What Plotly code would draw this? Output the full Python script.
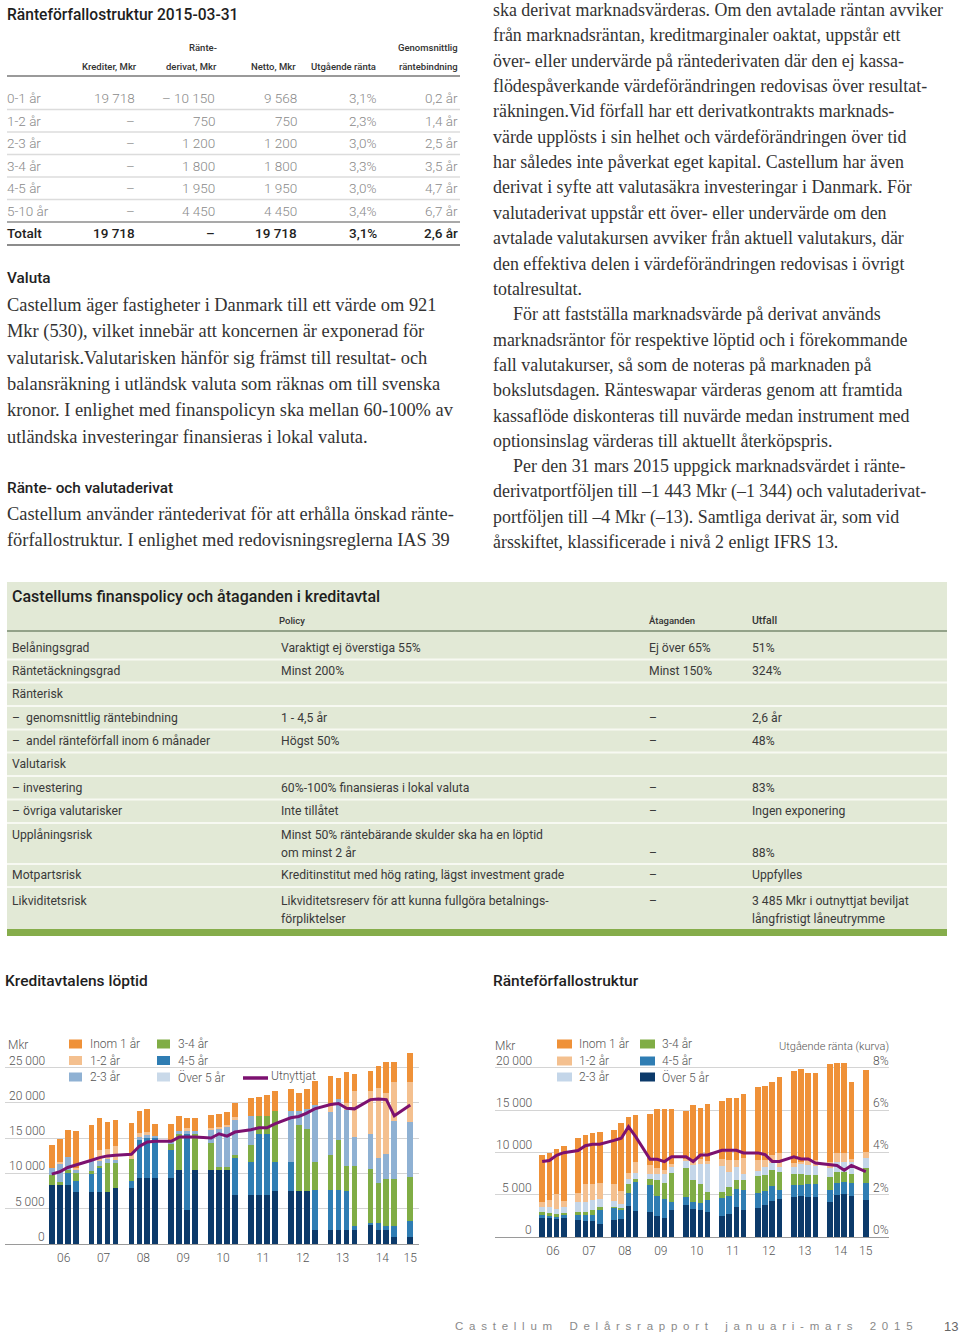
import plotly.graph_objects as go

W, H = 960, 1342

# ---------------- data ----------------
years = [2006, 2007, 2008, 2009, 2010, 2011, 2012, 2013, 2014, 2015]
year_labels = ["06", "07", "08", "09", "10", "11", "12", "13", "14", "15"]
quarters = [(y, q) for y in years for q in (1, 2, 3, 4) if not (y == 2015 and q > 1)]

# Kreditavtalens löptid, Mkr (per quarter 2006Q1 .. 2015Q1)
kl_over5 = [8400, 8400, 8400, 7500, 7500, 7500, 7500, 7950, 7950, 9450, 9450, 9450,
            9450, 10550, 4950, 10550, 10550, 10550, 10550, 7000, 7000, 7000, 7000, 7650,
            7650, 7650, 7650, 2100, 2100, 2100, 2100, 2100, 2700, 2100, 2100, 1050, 1050]
kl_4_5 = [0, 0, 1800, 1550, 2500, 3400, 0, 0, 1000, 5300, 5700, 5700,
          3950, 0, 10700, 0, 0, 0, 0, 5300, 4700, 8700, 8700, 4000,
          4000, 0, 0, 5650, 5650, 5650, 5550, 500, 350, 950, 500, 1550, 2250]
kl_3_4 = [1500, 500, 300, 1150, 400, 300, 4100, 3650, 3150, 0, 0, 0,
          950, 5100, 0, 5100, 3900, 400, 500, 400, 2450, 2450, 2450, 7300,
          0, 9350, 8750, 4000, 5000, 7000, 3450, 8600, 7600, 5700, 6700, 6700, 6200]
kl_2_3 = [1000, 2500, 1900, 500, 1400, 700, 500, 400, 0, 500, 400, 300,
          200, 400, 400, 400, 1900, 5400, 5550, 5000, 4050, 0, 0, 0,
          7250, 1900, 2850, 8000, 6000, 5900, 7900, 4000, 5050, 3500, 3500, 8200, 7900]
kl_1_2 = [0, 300, 0, 200, 0, 1450, 1400, 1900, 700, 600, 400, 0,
          0, 0, 500, 0, 200, 300, 300, 400, 0, 0, 0, 0,
          0, 0, 0, 0, 900, 0, 1000, 6500, 6050, 10000, 8700, 5500, 5650]
kl_inom1 = [3200, 3300, 3800, 5200, 5200, 4600, 3900, 3700, 4450, 3100, 3250, 1700,
            2600, 2100, 1400, 1950, 1850, 1800, 1900, 1950, 2600, 2750, 3000, 2850,
            3100, 2550, 2800, 3450, 4300, 2950, 4400, 2500, 2850, 3050, 4400, 2900, 4150]
kl_utnyttjat = [9900, 10240, 10850, 11170, 11880, 12250, 12490, 12580, 12720, 13850, 14460, 14550,
                14550, 15160, 15160, 15160, 15020, 15630, 15300, 15870, 16200, 16480, 16480, 17040,
                17890, 18080, 18550, 19160, 19770, 19910, 19250, 19160, 20470, 20560, 20470, 18170, 19700]

# Ränteförfallostruktur, Mkr (per quarter 2006Q1 .. 2015Q1)
rs_over5 = [2350, 2350, 2250, 2350, 2100, 1950, 1950, 1600, 2050, 2250, 3750, 3100,
            3000, 2500, 2300, 3200, 3850, 3400, 3200, 3050, 2500, 2750, 3600, 3250,
            3450, 3800, 4350, 4550, 4750, 4950, 4800, 4800, 4200, 5000, 5100, 4950, 4450]
rs_4_5 = [280, 200, 200, 280, 550, 700, 700, 1600, 1450, 1050, 1500, 3400,
          3150, 2450, 2200, 1000, 950, 800, 900, 1350, 2200, 2200, 2100, 2400,
          1750, 1700, 1700, 1050, 1500, 1300, 1500, 1500, 1450, 1450, 1450, 1500, 1950]
rs_3_4 = [400, 350, 300, 270, 400, 400, 550, 400, 150, 150, 1100, 400,
          750, 1900, 1950, 3450, 3400, 2550, 2250, 1000, 700, 1050, 1150, 1200,
          2050, 1850, 1900, 2100, 1250, 1300, 1050, 1050, 1500, 1300, 1200, 1100, 1800]
rs_2_3 = [600, 700, 670, 700, 1150, 1100, 1200, 1000, 650, 500, 600, 700,
          650, 600, 1000, 700, 850, 1850, 2350, 3300, 3050, 1750, 1500, 700,
          600, 1000, 900, 650, 850, 1100, 1200, 1100, 1100, 1200, 1200, 1400, 1200]
rs_1_2 = [570, 800, 1700, 700, 1000, 2200, 1950, 1850, 2000, 1500, 650, 1300,
          1000, 800, 550, 300, 250, 600, 550, 300, 800, 1450, 750, 1800,
          1350, 850, 900, 1650, 400, 300, 600, 700, 700, 1000, 1000, 300, 750]
rs_inom1 = [5500, 5600, 5380, 6480, 6600, 5700, 6000, 6000, 6350, 8100, 6650, 5500,
            6000, 6900, 7150, 6550, 5650, 6400, 6050, 6700, 6900, 7250, 7350, 7600,
            8550, 8700, 8550, 8900, 10950, 10900, 10300, 10250, 11550, 10600, 10600, 9050, 9568]
rs_ranta = [3.57, 3.62, 3.87, 3.99, 4.09, 4.32, 4.39, 4.39, 4.57, 4.67, 5.22, 4.75,
            3.68, 3.68, 3.57, 3.80, 3.80, 3.57, 3.88, 3.88, 4.10, 4.10, 4.10, 3.98,
            3.98, 3.90, 3.58, 3.58, 3.79, 3.69, 3.69, 3.50, 3.42, 3.39, 3.16, 3.39, 3.10]

series_names = ["Över 5 år", "4-5 år", "3-4 år", "2-3 år", "1-2 år", "Inom 1 år"]
kl_ticks = [0, 5000, 10000, 15000, 20000, 25000]
rs_ticks = [0, 5000, 10000, 15000, 20000]
rs_pct_ticks = [0, 2, 4, 6, 8]

# Top table: Ränteförfallostruktur 2015-03-31
t1_rows = ["0-1 år", "1-2 år", "2-3 år", "3-4 år", "4-5 år", "5-10 år"]
t1_krediter = ["19 718", "–", "–", "–", "–", "–"]
t1_derivat = ["– 10 150", "750", "1 200", "1 800", "1 950", "4 450"]
t1_netto = ["9 568", "750", "1 200", "1 800", "1 950", "4 450"]
t1_ranta = ["3,1%", "2,3%", "3,0%", "3,3%", "3,0%", "3,4%"]
t1_bindning = ["0,2 år", "1,4 år", "2,5 år", "3,5 år", "4,7 år", "6,7 år"]
t1_total = ["Totalt", "19 718", "–", "19 718", "3,1%", "2,6 år"]

# Finance policy table
fp_omrade = ["Belåningsgrad", "Räntetäckningsgrad", "Ränterisk",
             "–\u00a0 genomsnittlig räntebindning", "–\u00a0 andel ränteförfall inom 6 månader",
             "Valutarisk", "– investering", "– övriga valutarisker", "Upplåningsrisk",
             "Motpartsrisk", "Likviditetsrisk"]
fp_policy = ["Varaktigt ej överstiga 55%", "Minst 200%", "", "1 - 4,5 år", "Högst 50%", "",
             "60%-100% finansieras i lokal valuta", "Inte tillåtet",
             "Minst 50% räntebärande skulder ska ha en löptid\nom minst 2 år",
             "Kreditinstitut med hög rating, lägst investment grade",
             "Likviditetsreserv för att kunna fullgöra betalnings-\nförpliktelser"]
fp_ataganden = ["Ej över 65%", "Minst 150%", "", "–", "–", "", "–", "–", "\n–", "–", "–"]
fp_utfall = ["51%", "324%", "", "2,6 år", "48%", "", "83%", "Ingen exponering", "\n88%",
             "Uppfylles", "3 485 Mkr i outnyttjat beviljat\nlångfristigt låneutrymme"]

left_text = [
    "Castellum äger fastigheter i Danmark till ett värde om 921",
    "Mkr (530), vilket innebär att koncernen är exponerad för",
    "valutarisk.Valutarisken hänför sig främst till resultat- och",
    "balansräkning i utländsk valuta som räknas om till svenska",
    "kronor. I enlighet med finanspolicyn ska mellan 60-100% av",
    "utländska investeringar finansieras i lokal valuta.",
]
left_text2 = [
    "Castellum använder räntederivat för att erhålla önskad ränte-",
    "förfallostruktur. I enlighet med redovisningsreglerna IAS 39",
]
right_text = [
    "ska derivat marknadsvärderas. Om den avtalade räntan avviker",
    "från marknadsräntan, kreditmarginaler oaktat, uppstår ett",
    "över- eller undervärde på räntederivaten där den ej kassa-",
    "flödespåverkande värdeförändringen redovisas över resultat-",
    "räkningen.Vid förfall har ett derivatkontrakts marknads-",
    "värde upplösts i sin helhet och värdeförändringen över tid",
    "har således inte påverkat eget kapital. Castellum har även",
    "derivat i syfte att valutasäkra investeringar i Danmark. För",
    "valutaderivat uppstår ett över- eller undervärde om den",
    "avtalade valutakursen avviker från aktuell valutakurs, där",
    "den effektiva delen i värdeförändringen redovisas i övrigt",
    "totalresultat.",
    ">För att fastställa marknadsvärde på derivat används",
    "marknadsräntor för respektive löptid och i förekommande",
    "fall valutakurser, så som de noteras på marknaden på",
    "bokslutsdagen. Ränteswapar värderas genom att framtida",
    "kassaflöde diskonteras till nuvärde medan instrument med",
    "optionsinslag värderas till aktuellt återköpspris.",
    ">Per den 31 mars 2015 uppgick marknadsvärdet i ränte-",
    "derivatportföljen till –1 443 Mkr (–1 344) och valutaderivat-",
    "portföljen till –4 Mkr (–13). Samtliga derivat är, som vid",
    "årsskiftet, klassificerade i nivå 2 enligt IFRS 13.",
]

# ---------------- styling ----------------
SANS = "Roboto, Liberation Sans, Arial, sans-serif"
SERIF = "Liberation Serif, Times New Roman, DejaVu Serif, serif"
C_NAVY = "#0c3a6a"
C_MBLUE = "#2f7db3"
C_GREEN = "#80ad45"
C_PEACH = "#f4c08f"
C_ORANGE = "#ef9138"
C_LB_LEFT = "#8fb1d3"
C_LB_RIGHT = "#c4d6e9"
C_PALE = "#c9d9e9"
C_PURPLE = "#7c1170"
kl_colors = [C_NAVY, C_MBLUE, C_GREEN, C_LB_LEFT, C_PEACH, C_ORANGE]
rs_colors = [C_NAVY, C_MBLUE, C_GREEN, C_LB_RIGHT, C_PEACH, C_ORANGE]


def px(x):
    return x / W


def py(y):
    return 1 - y / H


annotations = []
shapes = []


def txt(x, y, s, size=14, color="#333", family=SANS, xanchor="left", weight=400, yanchor="middle"):
    annotations.append(dict(x=px(x), y=py(y), xref="paper", yref="paper", text=s, showarrow=False,
                            xanchor=xanchor, yanchor=yanchor, borderpad=0, borderwidth=0,
                            font=dict(size=size, color=color, family=family, weight=weight)))


def hline(x0, x1, y, color, width):
    shapes.append(dict(type="line", xref="paper", yref="paper", x0=px(x0), x1=px(x1),
                       y0=py(y), y1=py(y), line=dict(color=color, width=width)))


def rect(x0, x1, y0, y1, color):
    shapes.append(dict(type="rect", xref="paper", yref="paper", x0=px(x0), x1=px(x1),
                       y0=py(y1), y1=py(y0), fillcolor=color, line=dict(width=0), layer="below"))


# ---------------- figure ----------------
xpos = [(y - 2006) * 5 + (q - 1) for (y, q) in quarters]
tickpos = [(y - 2006) * 5 + (1.5 if y < 2015 else 0) for y in years]

fig = go.Figure()
kl_series = [kl_over5, kl_4_5, kl_3_4, kl_2_3, kl_1_2, kl_inom1]
for name, vals, col in zip(series_names, kl_series, kl_colors):
    fig.add_trace(go.Bar(x=xpos, y=vals, name=name, marker=dict(color=col, line=dict(width=0)),
                         width=0.72, xaxis="x", yaxis="y", showlegend=False))
fig.add_trace(go.Scatter(x=xpos, y=kl_utnyttjat, name="Utnyttjat", mode="lines",
                         line=dict(color=C_PURPLE, width=3), xaxis="x", yaxis="y", showlegend=False))

rs_series = [rs_over5, rs_4_5, rs_3_4, rs_2_3, rs_1_2, rs_inom1]
for name, vals, col in zip(series_names, rs_series, rs_colors):
    fig.add_trace(go.Bar(x=xpos, y=vals, name=name, marker=dict(color=col, line=dict(width=0)),
                         width=0.78, xaxis="x2", yaxis="y2", showlegend=False))
fig.add_trace(go.Scatter(x=xpos, y=rs_ranta, name="Utgående ränta", mode="lines",
                         line=dict(color=C_PURPLE, width=3), xaxis="x2", yaxis="y3", showlegend=False))

LIGHT = 300
# ---------- top-left table ----------
txt(7, 15, "Ränteförfallostruktur 2015-03-31", size=15.6, color="#1e1e1e", weight=500)
hdr = [("Krediter, Mkr", 137, 48 + 18), ("Ränte-", 217, 48), ("derivat, Mkr", 217, 66),
       ("Netto, Mkr", 296, 66), ("Utgående ränta", 376, 66), ("Genomsnittlig", 458, 48),
       ("räntebindning", 458, 66)]
for s, x, y in hdr:
    txt(x, y, s, size=9.5, color="#333", xanchor="right", weight=500)
hline(7, 460, 76, "#9a9a9a", 2)
col_right = [135, 215, 297, 377, 458]
for i, lab in enumerate(t1_rows):
    y = 98.3 + i * 22.5
    txt(7, y, lab, size=13.5, color="#8a8a8a", weight=LIGHT)
    for x, s in zip(col_right, [t1_krediter[i], t1_derivat[i], t1_netto[i], t1_ranta[i], t1_bindning[i]]):
        txt(x, y, s, size=13.5, color="#8a8a8a", xanchor="right", weight=LIGHT)
    if i < 5:
        hline(7, 460, y + 11.2, "#dcdcdc", 1.5)
hline(7, 460, 222, "#8c8c8c", 1.5)
ty = 233.3
txt(7, ty, t1_total[0], size=13.5, color="#222", weight=500)
for x, s in zip(col_right, t1_total[1:]):
    txt(x, ty, s, size=13.5, color="#222", xanchor="right", weight=500)
hline(7, 460, 245, "#8c8c8c", 2)

# ---------- left body text ----------
txt(7, 278, "Valuta", size=15.3, color="#222", weight=500)
for i, s in enumerate(left_text):
    txt(7, 305 + i * 26.3, s, size=18.4, color="#333", family=SERIF)
txt(7, 488, "Ränte- och valutaderivat", size=15.3, color="#222", weight=500)
for i, s in enumerate(left_text2):
    txt(7, 514 + i * 25.5, s, size=18.4, color="#333", family=SERIF)

# ---------- right body text ----------
for i, s in enumerate(right_text):
    x = 493
    if s.startswith(">"):
        s = s[1:]
        x = 513
    txt(x, 10 + i * 25.35, s, size=17.9, color="#333", family=SERIF)

# ---------- finance policy table ----------
rect(7, 947, 582, 930, "#e2e9d6")
rect(7, 947, 929, 936, "#86ad4b")
txt(12, 596, "Castellums finanspolicy och åtaganden i kreditavtal", size=16, color="#1e1e1e", weight=500)
txt(279, 621, "Policy", size=9.5, color="#333", weight=500)
txt(649, 621, "Åtaganden", size=9.5, color="#333", weight=500)
txt(752, 621, "Utfall", size=10.5, color="#333", weight=500)
hline(7, 947, 631, "#93a289", 2)
fp_y = [648, 671, 694, 718, 741, 764, 788, 811, 835, 875, 900.5]
for i in range(len(fp_omrade)):
    for x, cell in zip([12, 281, 649, 752], [fp_omrade[i], fp_policy[i], fp_ataganden[i], fp_utfall[i]]):
        for k, line in enumerate(cell.split("\n")):
            if line:
                txt(x, fp_y[i] + k * 18, line, size=12.2, color="#3a3a3a", weight=400)
for y in [659.5, 682.5, 706, 729.5, 752.5, 776, 799.5, 823, 864, 887]:
    hline(7, 947, y, "#f7f9f2", 2)

# ---------- chart titles ----------
txt(5, 981, "Kreditavtalens löptid", size=15.5, color="#1e1e1e", weight=500)
txt(493, 981, "Ränteförfallostruktur", size=15.5, color="#1e1e1e", weight=500)

# ---------- chart 1 (Kreditavtalens löptid) labels & legend ----------
LBL = "#555555"
LS = 12
txt(8, 1045, "Mkr", size=LS, color=LBL, weight=LIGHT)
for v in kl_ticks:
    annotations.append(dict(x=px(45), y=v, xref="paper", yref="y", text=f"{v:,}".replace(",", " "),
                            showarrow=False, xanchor="right", yanchor="bottom", yshift=0,
                            borderpad=0, borderwidth=0,
                            font=dict(size=LS, color=LBL, family=SANS, weight=LIGHT)))
leg1 = [("Inom 1 år", C_ORANGE, 69, 1044), ("1-2 år", C_PEACH, 69, 1060.5), ("2-3 år", C_LB_LEFT, 69, 1077),
        ("3-4 år", C_GREEN, 157, 1044), ("4-5 år", C_MBLUE, 157, 1060.5), ("Över 5 år", C_PALE, 157, 1077)]
for s, c, x, y in leg1:
    rect(x, x + 13, y - 4.5, y + 4.5, c)
    txt(x + 21, y, s, size=LS, color=LBL, weight=LIGHT)
hline(243, 268, 1078, C_PURPLE, 3.5)
txt(271, 1076, "Utnyttjat", size=LS, color=LBL, weight=LIGHT)

# ---------- chart 2 (Ränteförfallostruktur) labels & legend ----------
txt(495, 1046, "Mkr", size=LS, color=LBL, weight=LIGHT)
for v in rs_ticks:
    annotations.append(dict(x=px(532), y=v, xref="paper", yref="y2", text=f"{v:,}".replace(",", " "),
                            showarrow=False, xanchor="right", yanchor="bottom", yshift=0,
                            borderpad=0, borderwidth=0,
                            font=dict(size=LS, color=LBL, family=SANS, weight=LIGHT)))
for v in rs_pct_ticks:
    annotations.append(dict(x=px(889), y=v, xref="paper", yref="y3", text=f"{v}%",
                            showarrow=False, xanchor="right", yanchor="bottom", yshift=0,
                            borderpad=0, borderwidth=0,
                            font=dict(size=LS, color=LBL, family=SANS, weight=LIGHT)))
txt(889, 1046, "Utgående ränta (kurva)", size=11, color=LBL, xanchor="right", weight=LIGHT)
leg2 = [("Inom 1 år", C_ORANGE, 557, 1044), ("1-2 år", C_PEACH, 557, 1061), ("2-3 år", C_LB_RIGHT, 557, 1077),
        ("3-4 år", C_GREEN, 640, 1044), ("4-5 år", C_MBLUE, 640, 1061), ("Över 5 år", C_NAVY, 640, 1077)]
for s, c, x, y in leg2:
    rect(x, x + 15, y - 4.5, y + 4.5, c)
    txt(x + 22, y, s, size=LS, color=LBL, weight=LIGHT)

# ---------- footer ----------
footer_words = ["Castellum", "Delårsrapport", "januari-mars", "2015"]
footer = ("\u2002" * 3).join("\u2002".join(list(w)) for w in footer_words)
txt(455, 1326, footer, size=11.5, color="#8a8a8a", family="Liberation Sans, Arial, sans-serif")
txt(958, 1326, "13", size=13, color="#666", family="Liberation Sans, Arial, sans-serif", xanchor="right")

# ---------- axes ----------
axis_font = dict(size=LS, color=LBL, family=SANS, weight=LIGHT)
fig.update_layout(
    width=W, height=H,
    margin=dict(l=0, r=0, t=0, b=0),
    paper_bgcolor="white", plot_bgcolor="rgba(0,0,0,0)",
    barmode="stack", bargap=0,
    showlegend=False,
    xaxis=dict(domain=[px(5), px(419)], range=[-5.87, 46.1], tickvals=tickpos, ticktext=year_labels,
               showgrid=False, zeroline=False, showline=True, linecolor="#9a9a9a", linewidth=1,
               ticks="", tickfont=axis_font, ticklabelstandoff=3, anchor="y", fixedrange=True),
    yaxis=dict(domain=[py(1244), py(1046.5)], range=[0, 28000], tickvals=kl_ticks, showticklabels=False,
               gridcolor="#d4d4d4", gridwidth=1, zeroline=False, anchor="x", fixedrange=True),
    xaxis2=dict(domain=[px(495), px(889)], range=[-6.56, 48.23], tickvals=tickpos, ticktext=year_labels,
                showgrid=False, zeroline=False, showline=True, linecolor="#9a9a9a", linewidth=1,
                ticks="", tickfont=axis_font, ticklabelstandoff=2, anchor="y2", fixedrange=True),
    yaxis2=dict(domain=[py(1237.3), py(1050.7)], range=[0, 22000], tickvals=rs_ticks, showticklabels=False,
                gridcolor="#d4d4d4", gridwidth=1, zeroline=False, anchor="x2", fixedrange=True),
    yaxis3=dict(overlaying="y2", side="right", range=[0, 8.8], showgrid=False, showticklabels=False,
                zeroline=False, anchor="x2", fixedrange=True),
    annotations=annotations,
    shapes=shapes,
)

fig.write_html("out.html", config={"displayModeBar": False},
               post_script="document.body.style.margin='0px';document.body.style.overflow='hidden';")
